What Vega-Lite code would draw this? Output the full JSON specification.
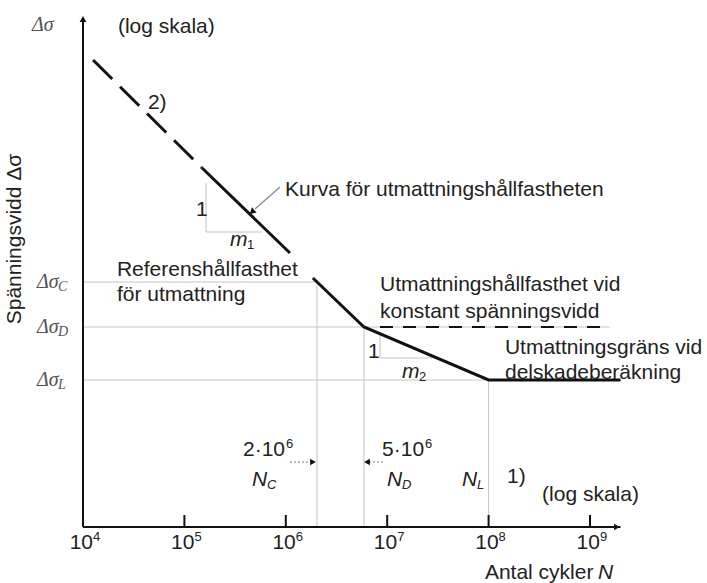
{
  "$schema": "https://vega.github.io/schema/vega-lite/v6.json",
  "width": 539,
  "height": 512,
  "autosize": {"type": "none"},
  "padding": {"left": 83, "top": 15, "right": 85, "bottom": 56},
  "background": "white",
  "config": {"view": {"stroke": null}, "text": {"font": "Liberation Sans"}},
  "datasets": {
    "rules": [
      {"kind": "grid", "N": 10000, "N2": 2030000, "y": 245, "y2": 245},
      {"kind": "grid", "N": 10000, "N2": 1574000000, "y": 200, "y2": 200},
      {"kind": "grid", "N": 10000, "N2": 100000000, "y": 147, "y2": 147},
      {"kind": "grid", "N": 2030000, "N2": 2030000, "y": 0, "y2": 245},
      {"kind": "grid", "N": 5900000, "N2": 5900000, "y": 0, "y2": 200},
      {"kind": "grid", "N": 100000000, "N2": 100000000, "y": 0, "y2": 147},
      {"kind": "grid", "N": 163300, "N2": 163300, "y": 295, "y2": 344},
      {"kind": "grid", "N": 163300, "N2": 582000, "y": 295, "y2": 295},
      {"kind": "grid", "N": 8490000, "N2": 8490000, "y": 169, "y2": 194},
      {"kind": "grid", "N": 8490000, "N2": 27700000, "y": 169, "y2": 169},
      {"kind": "pointer", "N": 877000, "N2": 497000, "y": 340, "y2": 318},
      {"kind": "pointerDot", "N": 1100000, "N2": 1730000, "y": 65, "y2": 65},
      {"kind": "pointerDot", "N": 9100000, "N2": 6620000, "y": 65, "y2": 65},
      {"kind": "dashD", "N": 8490000, "N2": 1574000000, "y": 200, "y2": 200},
      {"kind": "axis", "N": 10000, "N2": 2000000000, "y": 0, "y2": 0},
      {"kind": "axis", "N": 10000, "N2": 10000, "y": 0, "y2": 506},
      {"kind": "axis", "N": 100000, "N2": 100000, "y": 0, "y2": 12},
      {"kind": "axis", "N": 1000000, "N2": 1000000, "y": 0, "y2": 12},
      {"kind": "axis", "N": 10000000, "N2": 10000000, "y": 0, "y2": 12},
      {"kind": "axis", "N": 100000000, "N2": 100000000, "y": 0, "y2": 12},
      {"kind": "axis", "N": 1000000000, "N2": 1000000000, "y": 0, "y2": 12}
    ],
    "curve": [
      {"part": "a", "N": 12560, "y": 467},
      {"part": "a", "N": 149300, "y": 359},
      {"part": "b", "N": 149300, "y": 359},
      {"part": "b", "N": 1099000, "y": 274},
      {"part": "c", "N": 1850000, "y": 249},
      {"part": "c", "N": 5900000, "y": 200},
      {"part": "c", "N": 100000000, "y": 147},
      {"part": "c", "N": 2000000000, "y": 147}
    ],
    "heads": [
      {"N": 1845000000, "y": 0, "shape": "triangle-right"},
      {"N": 10000, "y": 508, "shape": "triangle-up"},
      {"N": 1854000, "y": 65, "shape": "triangle-right"},
      {"N": 6320000, "y": 65, "shape": "triangle-left"}
    ],
    "pointerHead": [{"N": 464000, "y": 315}],
    "notes": [
      {"N": 22100, "y": 500, "text": "(log skala)"},
      {"N": 43700, "y": 424, "text": "2)"},
      {"N": 982000, "y": 337, "text": "Kurva för utmattningshållfastheten"},
      {"N": 21600, "y": 257, "text": "Referenshållfasthet"},
      {"N": 21600, "y": 232, "text": "för utmattning"},
      {"N": 8490000, "y": 242, "text": "Utmattningshållfasthet vid"},
      {"N": 8490000, "y": 215, "text": "konstant spänningsvidd"},
      {"N": 145000000, "y": 179, "text": "Utmattningsgräns vid"},
      {"N": 145000000, "y": 154, "text": "delskadeberäkning"},
      {"N": 130000, "y": 317, "text": "1"},
      {"N": 6470000, "y": 175, "text": "1"},
      {"N": 152000000, "y": 50, "text": "1)"},
      {"N": 337000000, "y": 32, "text": "(log skala)"},
      {"N": 92000000, "y": -46, "text": "Antal cykler"}
    ],
    "symbols": [
      {"kind": "N", "N": 464000, "y": 47, "base": "N", "sub": "C"},
      {"kind": "N", "N": 9960000, "y": 47, "base": "N", "sub": "D"},
      {"kind": "N", "N": 54700000, "y": 47, "base": "N", "sub": "L"},
      {"kind": "N", "N": 1200000000, "y": -46, "base": "N", "sub": ""},
      {"kind": "m", "N": 282000, "y": 287, "base": "m", "sub": "1"},
      {"kind": "m", "N": 14000000, "y": 155, "base": "m", "sub": "2"},
      {"kind": "ds", "N": 3515, "y": 245, "base": "Δσ", "sub": "C"},
      {"kind": "ds", "N": 3515, "y": 200, "base": "Δσ", "sub": "D"},
      {"kind": "ds", "N": 3515, "y": 147, "base": "Δσ", "sub": "L"},
      {"kind": "ds", "N": 3140, "y": 502, "base": "Δσ", "sub": ""}
    ],
    "ticks": [
      {"N": 10000, "y": -16, "e": "4"},
      {"N": 100000, "y": -16, "e": "5"},
      {"N": 1000000, "y": -16, "e": "6"},
      {"N": 10000000, "y": -16, "e": "7"},
      {"N": 100000000, "y": -16, "e": "8"},
      {"N": 1000000000, "y": -16, "e": "9"}
    ],
    "powers": [
      {"N": 982000, "y": 77, "m": "2·10", "e": "6"},
      {"N": 23100000, "y": 77, "m": "5·10", "e": "6"}
    ],
    "ytitle": [{"N": 2133, "y": 288, "text": "Spänningsvidd Δσ"}]
  },
  "encoding": {
    "x": {"field": "N", "type": "quantitative", "scale": {"type": "log", "domain": [10000, 2069000000], "nice": false}, "axis": null},
    "y": {"field": "y", "type": "quantitative", "scale": {"domain": [0, 512], "nice": false, "zero": false}, "axis": null}
  },
  "layer": [
    {"data": {"name": "rules"}, "transform": [{"filter": "datum.kind === 'grid'"}],
     "mark": {"type": "rule", "color": "#c4c4c4", "strokeWidth": 1},
     "encoding": {"x2": {"field": "N2"}, "y2": {"field": "y2"}}},
    {"data": {"name": "rules"}, "transform": [{"filter": "datum.kind === 'pointer'"}],
     "mark": {"type": "rule", "color": "#8a8a8a", "strokeWidth": 1.3},
     "encoding": {"x2": {"field": "N2"}, "y2": {"field": "y2"}}},
    {"data": {"name": "rules"}, "transform": [{"filter": "datum.kind === 'pointerDot'"}],
     "mark": {"type": "rule", "color": "#777777", "strokeWidth": 1.2, "strokeDash": [2, 2]},
     "encoding": {"x2": {"field": "N2"}, "y2": {"field": "y2"}}},
    {"data": {"name": "rules"}, "transform": [{"filter": "datum.kind === 'dashD'"}],
     "mark": {"type": "rule", "color": "#111111", "strokeWidth": 2, "strokeDash": [13, 10]},
     "encoding": {"x2": {"field": "N2"}, "y2": {"field": "y2"}}},
    {"data": {"name": "rules"}, "transform": [{"filter": "datum.kind === 'axis'"}],
     "mark": {"type": "rule", "color": "#111111", "strokeWidth": 2},
     "encoding": {"x2": {"field": "N2"}, "y2": {"field": "y2"}}},
    {"data": {"name": "curve"}, "transform": [{"filter": "datum.part === 'a'"}],
     "mark": {"type": "line", "color": "#111111", "strokeWidth": 3, "strokeDash": [27, 11]},
     "encoding": {}},
    {"data": {"name": "curve"}, "transform": [{"filter": "datum.part !== 'a'"}],
     "mark": {"type": "line", "color": "#111111", "strokeWidth": 3},
     "encoding": {"detail": {"field": "part"}}},
    {"data": {"name": "heads"},
     "mark": {"type": "point", "filled": true, "color": "#111111", "size": 45, "opacity": 1},
     "encoding": {"shape": {"field": "shape", "type": "nominal", "scale": null}}},
    {"data": {"name": "pointerHead"},
     "mark": {"type": "point", "shape": "triangle-up", "angle": 228, "filled": true, "color": "#111111", "size": 50, "opacity": 1},
     "encoding": {}},
    {"data": {"name": "notes"},
     "mark": {"type": "text", "align": "left", "baseline": "middle", "fontSize": 21, "color": "#222222"},
     "encoding": {"text": {"field": "text"}}},
    {"data": {"name": "ytitle"},
     "mark": {"type": "text", "align": "center", "baseline": "middle", "fontSize": 21, "angle": 270, "color": "#222222"},
     "encoding": {"text": {"field": "text"}}},
    {"data": {"name": "symbols"}, "transform": [{"filter": "datum.kind !== 'ds'"}],
     "mark": {"type": "text", "align": "left", "baseline": "middle", "fontSize": 21, "fontStyle": "italic", "color": "#222222"},
     "encoding": {"text": {"field": "base"}}},
    {"data": {"name": "symbols"}, "transform": [{"filter": "datum.kind === 'N'"}],
     "mark": {"type": "text", "align": "left", "baseline": "middle", "fontSize": 13, "fontStyle": "italic", "dx": 15, "dy": 5, "color": "#222222"},
     "encoding": {"text": {"field": "sub"}}},
    {"data": {"name": "symbols"}, "transform": [{"filter": "datum.kind === 'm'"}],
     "mark": {"type": "text", "align": "left", "baseline": "middle", "fontSize": 13, "dx": 17, "dy": 5, "color": "#222222"},
     "encoding": {"text": {"field": "sub"}}},
    {"data": {"name": "symbols"}, "transform": [{"filter": "datum.kind === 'ds'"}],
     "mark": {"type": "text", "align": "left", "baseline": "middle", "font": "Liberation Serif", "fontSize": 20, "fontStyle": "italic", "color": "#555555"},
     "encoding": {"text": {"field": "base"}}},
    {"data": {"name": "symbols"}, "transform": [{"filter": "datum.kind === 'ds'"}],
     "mark": {"type": "text", "align": "left", "baseline": "middle", "font": "Liberation Serif", "fontSize": 14, "fontStyle": "italic", "dx": 21, "dy": 5, "color": "#555555"},
     "encoding": {"text": {"field": "sub"}}},
    {"data": {"name": "ticks"},
     "mark": {"type": "text", "align": "right", "baseline": "middle", "fontSize": 21, "dx": 10, "color": "#222222"},
     "encoding": {"text": {"value": "10"}}},
    {"data": {"name": "ticks"},
     "mark": {"type": "text", "align": "left", "baseline": "middle", "fontSize": 13, "dx": 10, "dy": -6, "color": "#222222"},
     "encoding": {"text": {"field": "e"}}},
    {"data": {"name": "powers"},
     "mark": {"type": "text", "align": "right", "baseline": "middle", "fontSize": 21, "color": "#222222"},
     "encoding": {"text": {"field": "m"}}},
    {"data": {"name": "powers"},
     "mark": {"type": "text", "align": "left", "baseline": "middle", "fontSize": 13, "dx": 1, "dy": -6, "color": "#222222"},
     "encoding": {"text": {"field": "e"}}}
  ]
}
